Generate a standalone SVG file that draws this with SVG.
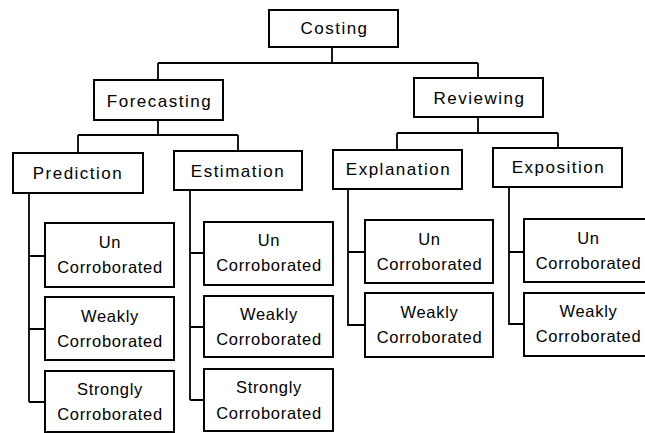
<svg xmlns="http://www.w3.org/2000/svg" width="645" height="433" viewBox="0 0 645 433">
<style>
rect{fill:#fff;stroke:#000;stroke-width:2}
.c path{fill:none;stroke:#000;stroke-width:1.8}
text{font-family:"Liberation Sans",Arial,sans-serif;fill:#000;text-anchor:middle}
.t{font-size:17px;letter-spacing:1.5px}
.s{font-size:16.5px;letter-spacing:0.7px}
</style>
<rect x="0" y="0" width="645" height="433" style="fill:#fff;stroke:none"/>
<g class="c" id="connectors">
<path d="M332 47V63M158 63H478M158 63V80M478 63V78"/>
<path d="M158 120V135M78 135H238M78 135V153M238 135V151"/>
<path d="M478 117V133M397 133H558M397 133V150M558 133V148"/>
<path d="M29 193V402M29 256H45M29 329H45M29 402H45"/>
<path d="M190 190V400M190 253H204M190 327H204M190 400H204"/>
<path d="M348 189V326M348 252H365M348 325H365"/>
<path d="M509 187V325M509 252H524M509 324H524"/>
</g>
<g id="costing"><rect x="269" y="10" width="129" height="37"/><text class="t" x="334.5" y="34">Costing</text></g>
<g id="forecasting"><rect x="94" y="80" width="129" height="40"/><text class="t" x="159.5" y="107">Forecasting</text></g>
<g id="reviewing"><rect x="414" y="78" width="129" height="39"/><text class="t" x="479.5" y="104">Reviewing</text></g>
<g id="prediction"><rect x="13" y="153" width="130" height="40"/><text class="t" x="78" y="179">Prediction</text></g>
<g id="estimation"><rect x="174" y="151" width="128" height="39"/><text class="t" x="238" y="177">Estimation</text></g>
<g id="explanation"><rect x="333" y="150" width="129" height="39"/><text class="t" x="398.5" y="175">Explanation</text></g>
<g id="exposition"><rect x="493" y="148" width="129" height="39"/><text class="t" x="558.5" y="173">Exposition</text></g>

<g id="p-un"><rect x="45" y="223" width="129" height="64"/><text class="s" x="110" y="248">Un</text><text class="s" x="110" y="273">Corroborated</text></g>
<g id="p-weakly"><rect x="45" y="297" width="129" height="63"/><text class="s" x="110" y="322">Weakly</text><text class="s" x="110" y="347">Corroborated</text></g>
<g id="p-strongly"><rect x="45" y="371" width="129" height="61"/><text class="s" x="110" y="395">Strongly</text><text class="s" x="110" y="420">Corroborated</text></g>

<g id="e-un"><rect x="204" y="222" width="129" height="63"/><text class="s" x="269" y="246">Un</text><text class="s" x="269" y="271">Corroborated</text></g>
<g id="e-weakly"><rect x="204" y="296" width="129" height="61"/><text class="s" x="269" y="320">Weakly</text><text class="s" x="269" y="345">Corroborated</text></g>
<g id="e-strongly"><rect x="204" y="369" width="129" height="62"/><text class="s" x="269" y="393">Strongly</text><text class="s" x="269" y="419">Corroborated</text></g>

<g id="x-un"><rect x="365" y="220" width="128" height="63"/><text class="s" x="429.5" y="245">Un</text><text class="s" x="429.5" y="270">Corroborated</text></g>
<g id="x-weakly"><rect x="365" y="293" width="128" height="64"/><text class="s" x="429.5" y="318">Weakly</text><text class="s" x="429.5" y="343">Corroborated</text></g>

<g id="o-un"><rect x="524" y="219" width="128" height="63"/><text class="s" x="588.5" y="244">Un</text><text class="s" x="588.5" y="269">Corroborated</text></g>
<g id="o-weakly"><rect x="524" y="293" width="128" height="63"/><text class="s" x="588.5" y="317">Weakly</text><text class="s" x="588.5" y="342">Corroborated</text></g>
</svg>
